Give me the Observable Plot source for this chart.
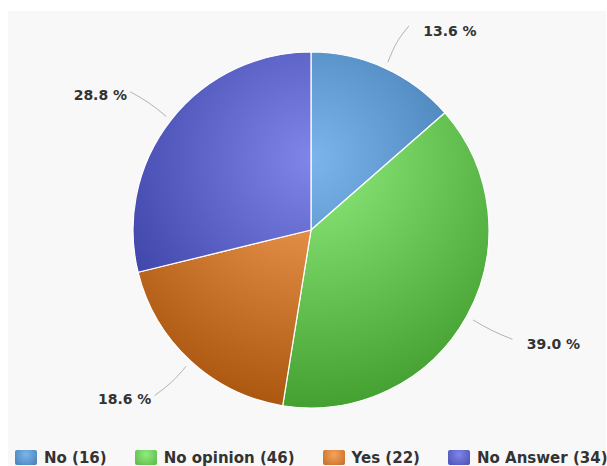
<!DOCTYPE html>
<html><head><meta charset="utf-8">
<script src="https://cdn.jsdelivr.net/npm/d3@7"></script>
<script src="https://cdn.jsdelivr.net/npm/@observablehq/plot@0.6"></script>
<style>
html,body{margin:0;padding:0;background:#fff;width:607px;height:466px;overflow:hidden;position:relative}
#panel{position:absolute;left:8px;top:11px;width:598px;height:460px;background:#f8f8f8}
#chart{position:absolute;left:0;top:0}
#legend{position:absolute;left:15px;top:449px;height:17px;display:flex;align-items:center;white-space:nowrap;font:bold 15px "DejaVu Sans",sans-serif;color:#333}
.item{display:flex;align-items:center;margin-right:28px}
.sw{width:22px;height:15px;border-radius:2px;margin-right:7px}
</style></head>
<body>
<div id="panel"></div>
<div id="chart"></div>
<div id="legend"></div>
<script>
const categories = ["No", "No opinion", "Yes", "No Answer"];
const counts = [16, 46, 22, 34];
const colors = ["#7cb5ec", "#90ed7d", "#f7a35c", "#8085e9"];

const total = d3.sum(counts);
const rows = categories.map((c, i) => ({category: c, count: counts[i], color: colors[i], pct: (counts[i] / total * 100).toFixed(1) + " %"}));
const arcs = d3.pie().sort(null).value(d => d.count)(rows);

function darken(c) {
  const r = d3.rgb(c);
  return d3.rgb(Math.max(0, r.r - 76), Math.max(0, r.g - 76), Math.max(0, r.b - 76)).formatHex();
}
const polar = (rho, a) => [rho * Math.sin(a), rho * Math.cos(a)];

// connector lines & labels derived from slice angles
const connectors = [];
const labels = [];
arcs.forEach((a, i) => {
  const m = (a.startAngle + a.endAngle) / 2;
  const right = Math.sin(m) >= 0;
  const s = right ? 1 : -1;
  const p0 = polar(1.04, m), p1 = polar(1.16, m), p2 = polar(1.26, m);
  connectors.push({x: p0[0], y: p0[1], k: i});
  connectors.push({x: p1[0], y: p1[1], k: i});
  connectors.push({x: p2[0] + s * 0.025, y: p2[1], k: i});
  labels.push({x: p2[0], y: p2[1], text: a.data.pct, right});
});

function slices(index, scales) {
  const cx = scales.x(0), cy = scales.y(0), R = scales.x(1) - cx;
  const g = d3.create("svg:g").attr("transform", `translate(${cx},${cy})`);
  const defs = g.append("defs");
  arcs.forEach((a, i) => {
    const gr = defs.append("radialGradient").attr("id", "grad" + i)
      .attr("gradientUnits", "userSpaceOnUse")
      .attr("cx", 0).attr("cy", -0.4 * R).attr("r", 1.4 * R);
    gr.append("stop").attr("offset", 0).attr("stop-color", a.data.color);
    gr.append("stop").attr("offset", 1).attr("stop-color", darken(a.data.color));
  });
  g.selectAll("path").data(arcs).join("path")
    .attr("d", d3.arc().innerRadius(0).outerRadius(R))
    .attr("fill", (d, i) => `url(#grad${i})`)
    .attr("stroke", "#ffffff").attr("stroke-width", 1.2).attr("stroke-linejoin", "round");
  return g.node();
}

const W = 607, H = 440, CX = 311, CY = 230, R = 178;
const textStyle = {x: "x", y: "y", text: "text", fill: "#333", fontWeight: "bold", fontSize: 14, fontFamily: "DejaVu Sans"};
const plot = Plot.plot({
  width: W, height: H,
  margin: 0,
  x: {domain: [-CX / R, (W - CX) / R], axis: null},
  y: {domain: [(CY - H) / R, CY / R], axis: null},
  style: {background: "transparent", overflow: "visible"},
  marks: [
    slices,
    Plot.line(connectors, {x: "x", y: "y", z: "k", curve: "natural", stroke: "#b3b3b3", strokeWidth: 1}),
    Plot.text(labels.filter(d => d.right), {...textStyle, textAnchor: "start", dx: 19, dy: 5}),
    Plot.text(labels.filter(d => !d.right), {...textStyle, textAnchor: "end", dx: -8, dy: 4})
  ]
});
document.getElementById("chart").appendChild(plot);

const legend = d3.select("#legend");
rows.forEach(r => {
  const it = legend.append("div").attr("class", "item");
  it.append("div").attr("class", "sw")
    .style("background", `radial-gradient(circle at 50% 30%, ${r.color}, ${darken(r.color)} 140%)`);
  it.append("span").text(`${r.category} (${r.count})`);
});
</script>
</body></html>
